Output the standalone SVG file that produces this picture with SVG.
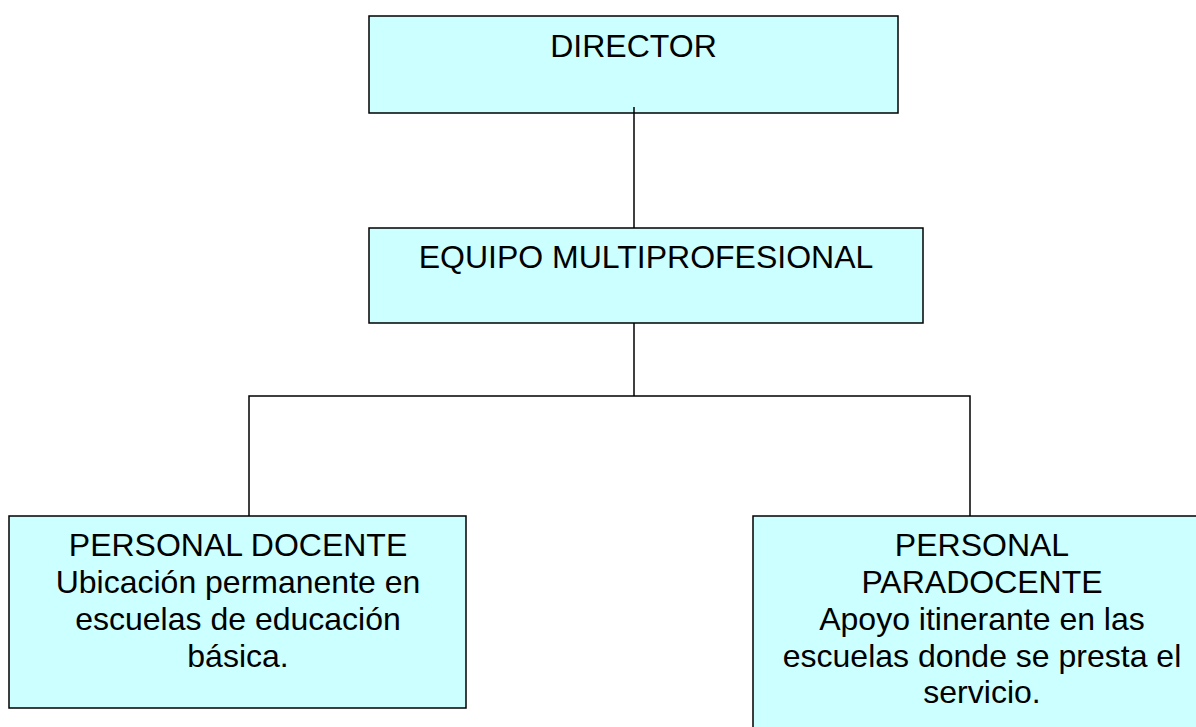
<svg xmlns="http://www.w3.org/2000/svg" width="1196" height="727" viewBox="0 0 1196 727">
<style>
.box{fill:#CCFFFF;stroke:#000;stroke-width:1.5}
.lbl{font-family:"Liberation Sans",Arial,sans-serif;font-size:32px;fill:#000;text-anchor:middle}
.conn{fill:none;stroke:#000;stroke-width:1.5}
</style>
<rect width="1196" height="727" fill="#fff"/>
<g id="connectors">
<line class="conn" x1="634" y1="107" x2="634" y2="228"/>
<line class="conn" x1="634" y1="323" x2="634" y2="396"/>
<polyline class="conn" points="249,516 249,396 970,396 970,516"/>
</g>
<g id="director">
<rect class="box" x="369" y="16" width="529" height="97"/>
<line class="conn" x1="634" y1="107" x2="634" y2="113"/>
<text class="lbl" x="633.5" y="57">DIRECTOR</text>
</g>
<g id="equipo">
<rect class="box" x="369" y="228" width="554" height="95"/>
<text class="lbl" x="646" y="268">EQUIPO MULTIPROFESIONAL</text>
</g>
<g id="docente">
<rect class="box" x="9" y="516" width="457" height="192"/>
<text class="lbl" x="238" y="556">PERSONAL DOCENTE</text>
<text class="lbl" x="238" y="593">Ubicación permanente en</text>
<text class="lbl" x="238" y="630">escuelas de educación</text>
<text class="lbl" x="238" y="667">básica.</text>
</g>
<g id="paradocente">
<rect class="box" x="753" y="516" width="458" height="240"/>
<text class="lbl" x="982" y="556">PERSONAL</text>
<text class="lbl" x="982" y="593">PARADOCENTE</text>
<text class="lbl" x="982" y="630">Apoyo itinerante en las</text>
<text class="lbl" x="982" y="667">escuelas donde se presta el</text>
<text class="lbl" x="982" y="703">servicio.</text>
</g>
</svg>
